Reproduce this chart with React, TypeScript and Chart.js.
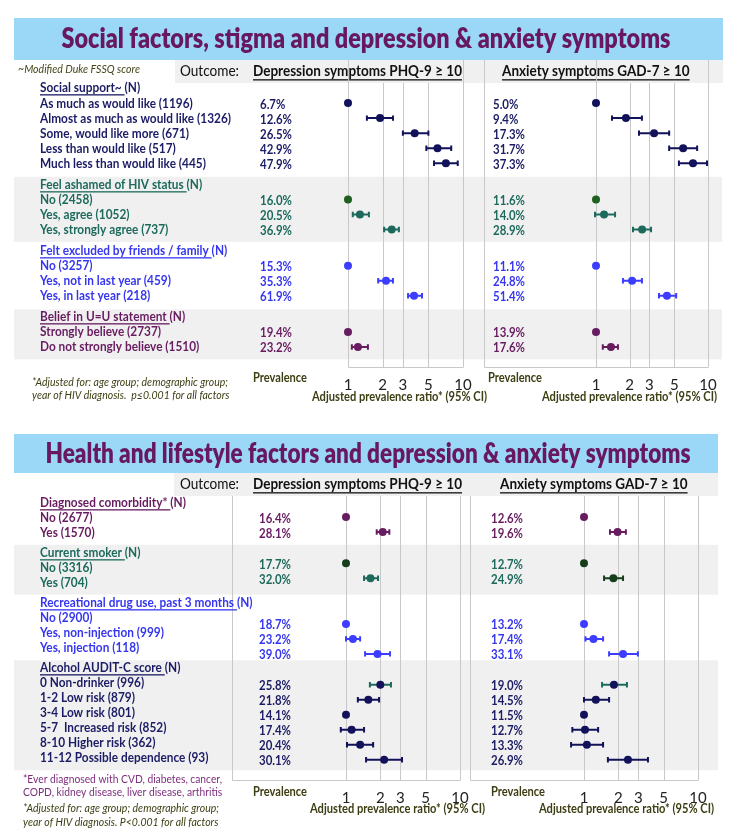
import React, { useEffect, useRef } from "react";
import { Chart, registerables } from "chart.js";

Chart.register(...registerables);

const FONT = "Lato, 'Open Sans', 'Noto Sans', sans-serif";

// ---------------- shared axis / headings ----------------
const ratioTicks = [1, 2, 3, 5, 10];
const ratioMin = 0.1;
const ratioMax = 10;
const axisTitle = "Adjusted prevalence ratio* (95% CI)";
const depHeader = "Depression symptoms PHQ-9 \u2265 10";
const anxHeader = "Anxiety symptoms GAD-7 \u2265 10";
const outcomeText = "Outcome:";
const prevalenceText = "Prevalence";

// ---------------- top panel data ----------------
const topTitle = "Social factors, stigma and depression & anxiety symptoms";
const topGroups = ["Social support~", "Feel ashamed of HIV status", "Felt excluded by friends / family", "Belief in U=U statement"];
const topGroupOf = [0, 0, 0, 0, 0, 1, 1, 1, 2, 2, 2, 3, 3];
const topLabels = [
  "As much as would like (1196)",
  "Almost as much as would like (1326)",
  "Some, would like more (671)",
  "Less than would like (517)",
  "Much less than would like (445)",
  "No (2458)",
  "Yes, agree (1052)",
  "Yes, strongly agree (737)",
  "No (3257)",
  "Yes, not in last year (459)",
  "Yes, in last year (218)",
  "Strongly believe (2737)",
  "Do not strongly believe (1510)",
];
const topDepPrev = [6.7, 12.6, 26.5, 42.9, 47.9, 16.0, 20.5, 36.9, 15.3, 35.3, 61.9, 19.4, 23.2];
const topDepPR = [1, 1.9, 3.8, 6.0, 7.1, 1, 1.27, 2.4, 1, 2.14, 3.75, 1, 1.22];
const topDepLo = [null, 1.46, 3.0, 4.8, 5.6, null, 1.1, 2.06, null, 1.83, 3.33, null, 1.08];
const topDepHi = [null, 2.46, 5.0, 7.9, 9.0, null, 1.52, 2.77, null, 2.46, 4.4, null, 1.49];
const topAnxPrev = [5.0, 9.4, 17.3, 31.7, 37.3, 11.6, 14.0, 28.9, 11.1, 24.8, 51.4, 13.9, 17.6];
const topAnxPR = [1, 1.85, 3.3, 6.0, 7.35, 1, 1.18, 2.58, 1, 2.1, 4.3, 1, 1.36];
const topAnxLo = [null, 1.39, 2.42, 4.5, 5.5, null, 0.98, 2.14, null, 1.74, 3.65, null, 1.15];
const topAnxHi = [null, 2.57, 4.5, 8.0, 9.8, null, 1.48, 3.1, null, 2.57, 5.2, null, 1.57];
const topNotes = [
  { text: "~Modified Duke FSSQ score", x: 18, y: 70, cls: "noteSmall", color: "#45451a" },
  { text: "*Adjusted for: age group; demographic group;", x: 32, y: 382, cls: "note", color: "#3e3e14" },
  { text: "year of HIV diagnosis.  p\u22640.001 for all factors", x: 32, y: 395, cls: "note", color: "#3e3e14" },
];

// ---------------- bottom panel data ----------------
const bottomTitle = "Health and lifestyle factors and depression & anxiety symptoms";
const bottomGroups = ["Diagnosed comorbidity*", "Current smoker", "Recreational drug use, past 3 months", "Alcohol AUDIT-C score"];
const bottomGroupOf = [0, 0, 1, 1, 2, 2, 2, 3, 3, 3, 3, 3, 3];
const bottomLabels = [
  "No (2677)",
  "Yes (1570)",
  "No (3316)",
  "Yes (704)",
  "No (2900)",
  "Yes, non-injection (999)",
  "Yes, injection (118)",
  "0 Non-drinker (996)",
  "1-2 Low risk (879)",
  "3-4 Low risk (801)",
  "5-7  Increased risk (852)",
  "8-10 Higher risk (362)",
  "11-12 Possible dependence (93)",
];
const bottomDepPrev = [16.4, 28.1, 17.7, 32.0, 18.7, 23.2, 39.0, 25.8, 21.8, 14.1, 17.4, 20.4, 30.1];
const bottomDepPR = [1, 2.1, 1, 1.64, 1, 1.15, 1.89, 2.0, 1.57, 1, 1.12, 1.33, 2.16];
const bottomDepLo = [null, 1.86, null, 1.44, null, 1.0, 1.47, 1.62, 1.27, null, 0.9, 1.02, 1.5];
const bottomDepHi = [null, 2.4, null, 1.91, null, 1.33, 2.43, 2.48, 1.95, null, 1.44, 1.73, 3.1];
const bottomAnxPrev = [12.6, 19.6, 12.7, 24.9, 13.2, 17.4, 33.1, 19.0, 14.5, 11.5, 12.7, 13.3, 26.9];
const bottomAnxPR = [1, 1.97, 1, 1.81, 1, 1.21, 2.2, 1.83, 1.27, 1, 1.02, 1.06, 2.43];
const bottomAnxLo = [null, 1.69, null, 1.5, null, 1.03, 1.66, 1.44, 1.0, null, 0.79, 0.77, 1.62];
const bottomAnxHi = [null, 2.33, null, 2.2, null, 1.47, 2.97, 2.38, 1.66, null, 1.33, 1.47, 3.64];
const bottomNotes = [
  { text: "*Ever diagnosed with CVD, diabetes, cancer,", x: 23, y: 779, cls: "notePurple", color: "#7d2d7d" },
  { text: "COPD, kidney disease, liver disease, arthritis", x: 23, y: 792, cls: "notePurple", color: "#7d2d7d" },
  { text: "*Adjusted for: age group; demographic group;", x: 23, y: 808, cls: "note", color: "#3e3e14" },
  { text: "year of HIV diagnosis. P<0.001 for all factors", x: 23, y: 822, cls: "note", color: "#3e3e14" },
];

// ---------------- styles ----------------
const NAVY_TXT = "#1c1c66";
const NAVY_PT = "#12125a";
const TEAL = "#1d6a5d";
const DKGREEN = "#1f5f1f";
const SMOKE_DK = "#163d1c";
const BLUE_TXT = "#3636f0";
const BLUE_PT = "#3d3dff";
const PURPLE = "#681c60";
const TITLE_C = "#68185f";
const BANNER = "#9bd8f8";
const BAND = "#f0f0f0";
const OLIVE = "#3e3e14";
const GRID = "#c8c8c8";

const textClasses: Record<string, { font: string; ref?: string; width?: number }> = {
  label: { font: `bold 14px ${FONT}`, ref: "Almost as much as would like (1326)", width: 191 },
  prev: { font: `bold 14px ${FONT}`, ref: "47.9%", width: 32 },
  header: { font: `bold 15px ${FONT}`, ref: depHeader, width: 209 },
  outcome: { font: `15px ${FONT}`, ref: "Outcome:", width: 59 },
  note: { font: `italic 11px ${FONT}`, ref: "*Adjusted for: age group; demographic group;", width: 196 },
  noteSmall: { font: `italic 10.5px ${FONT}`, ref: "~Modified Duke FSSQ score", width: 122 },
  notePurple: { font: `11.5px ${FONT}`, ref: "*Ever diagnosed with CVD, diabetes, cancer,", width: 199 },
  prevLabel: { font: `bold 13px ${FONT}`, ref: "Prevalence", width: 54 },
  axisTitle: { font: `bold 12.5px ${FONT}`, ref: axisTitle, width: 175 },
};

const topPanel = {
  title: topTitle,
  groups: topGroups,
  groupOf: topGroupOf,
  labels: topLabels,
  notes: topNotes,
  dep: { prev: topDepPrev, pr: topDepPR, lo: topDepLo, hi: topDepHi, header: depHeader },
  anx: { prev: topAnxPrev, pr: topAnxPR, lo: topAnxLo, hi: topAnxHi, header: anxHeader },
  textColors: [NAVY_TXT, TEAL, BLUE_TXT, PURPLE],
  pointColors: [NAVY_PT, TEAL, BLUE_PT, PURPLE],
  pointOverride: { dep: { 5: DKGREEN }, anx: { 5: DKGREEN } } as any,
  ciOverride: { dep: {}, anx: {} } as any,
};

const bottomPanel = {
  title: bottomTitle,
  groups: bottomGroups,
  groupOf: bottomGroupOf,
  labels: bottomLabels,
  notes: bottomNotes,
  dep: { prev: bottomDepPrev, pr: bottomDepPR, lo: bottomDepLo, hi: bottomDepHi, header: depHeader },
  anx: { prev: bottomAnxPrev, pr: bottomAnxPR, lo: bottomAnxLo, hi: bottomAnxHi, header: anxHeader },
  textColors: [PURPLE, TEAL, BLUE_TXT, NAVY_TXT],
  pointColors: [PURPLE, TEAL, BLUE_PT, NAVY_PT],
  pointOverride: { dep: { 2: SMOKE_DK }, anx: { 2: SMOKE_DK, 3: SMOKE_DK } } as any,
  ciOverride: { dep: { 7: TEAL }, anx: { 7: TEAL, 3: SMOKE_DK } } as any,
};

const AXIS_H = 38;
const RIGHT_OFF = 465;

const topLayout = {
  offY: 0, height: 420, padTop: 83, padBottom: 15, yMin: -0.33, yMax: 18.53, gap: 0.4,
  bannerTop: 18, bannerBottom: 60, bannerRight: 723, titleWidth: 609, titleX: 366, titleY: 39,
  headerLeft: 175, headerRight: 723, extendTop: true, bandRight: 722, prevLabelY: 378, axisTitleY: 397,
  shift: [0, 0, 0, 0],
  dep: { padLeft: 233, padRight: 741 - 463, boxFrom: 1, prevX: 260, headerX: 253, prevLabelX: 253, axisTitleRight: 487 },
  anx: { padLeft: 484 - RIGHT_OFF, padRight: 741 - 708, boxFrom: 0.1, prevX: 493, headerX: 502, prevLabelX: 488, axisTitleRight: 717 },
};

const bottomLayout = {
  offY: 420, height: 414, padTop: 76, padBottom: 16, yMin: -0.4, yMax: 18.52, gap: 0.35,
  bannerTop: 434, bannerBottom: 473, bannerRight: 718, titleWidth: 645, titleX: 368, titleY: 454,
  headerLeft: 174, headerRight: 718, extendTop: false, bandRight: 718, prevLabelY: 792, axisTitleY: 809,
  shift: [0, -0.27, 0.42, 0.12],
  dep: { padLeft: 232, padRight: 741 - 460, boxFrom: 0.1, prevX: 259, headerX: 253, prevLabelX: 253, axisTitleRight: 485 },
  anx: { padLeft: 470 - RIGHT_OFF, padRight: 741 - 698, boxFrom: 0.1, prevX: 491, headerX: 500, prevLabelX: 491, axisTitleRight: 714 },
};

function rowLayout(groupOf: number[], gap: number) {
  const headerU: number[] = [];
  const lastU: number[] = [];
  const itemU: number[] = [];
  let u = 0;
  let prev = -1;
  groupOf.forEach((g) => {
    if (g !== prev) {
      if (prev !== -1) u += gap;
      headerU[g] = u;
      u += 1;
      prev = g;
    }
    itemU.push(u);
    lastU[g] = u;
    u += 1;
  });
  return { headerU, lastU, itemU };
}

function drawText(ctx: CanvasRenderingContext2D, cls: string, text: string, x: number, y: number, color: string, align: CanvasTextAlign = "left", targetWidth?: number, fontOverride?: string) {
  const c = textClasses[cls] || { font: fontOverride || `13px ${FONT}` };
  ctx.save();
  ctx.font = fontOverride || c.font;
  let sx = 1;
  if (targetWidth) sx = targetWidth / ctx.measureText(text).width;
  else if (c.ref && c.width) sx = c.width / ctx.measureText(c.ref).width;
  sx = Math.max(0.65, Math.min(1.3, sx));
  ctx.fillStyle = color;
  ctx.textBaseline = "middle";
  ctx.textAlign = align;
  ctx.translate(x, y);
  ctx.scale(sx, 1);
  ctx.fillText(text, 0, 0);
  const w = ctx.measureText(text).width * sx;
  ctx.restore();
  return w;
}

function underline(ctx: CanvasRenderingContext2D, x: number, y: number, w: number, color: string) {
  ctx.save();
  ctx.fillStyle = color;
  ctx.fillRect(x, Math.round(y) + 0.2, w, 1.3);
  ctx.restore();
}

function makeChart(canvas: HTMLCanvasElement, panel: any, L: any, side: "dep" | "anx") {
  const isDep = side === "dep";
  const s = isDep ? L.dep : L.anx;
  const offX = isDep ? 0 : RIGHT_OFF;
  const rows = rowLayout(panel.groupOf, L.gap);
  const d = panel[side];
  const yOf = (i: number) => rows.itemU[i] + L.shift[panel.groupOf[i]];
  const ptColors = d.pr.map((_: number, i: number) => panel.pointOverride[side][i] || panel.pointColors[panel.groupOf[i]]);
  const ciColors = d.pr.map((_: number, i: number) => panel.ciOverride[side][i] || ptColors[i]);
  const pxx = (v: number) => v - offX;
  const pyy = (v: number) => v - L.offY;

  const bgPlugin = {
    id: "forestBackground",
    beforeDraw(chart: any) {
      const ctx: CanvasRenderingContext2D = chart.ctx;
      const ca = chart.chartArea;
      const xs = chart.scales.x;
      const ys = chart.scales.y;
      const headTop = ca.top - 23;
      ctx.save();
      if (isDep) {
        // banner + title
        ctx.fillStyle = BANNER;
        ctx.fillRect(14, pyy(L.bannerTop), L.bannerRight - 14, L.bannerBottom - L.bannerTop);
        drawText(ctx, "title", panel.title, L.titleX, pyy(L.titleY), TITLE_C, "center", L.titleWidth, `800 28px ${FONT}`);
        // outcome header band
        ctx.fillStyle = BAND;
        ctx.fillRect(L.headerLeft, headTop, L.headerRight - L.headerLeft, 23);
        // section bands
        panel.groups.forEach((_: string, gi: number) => {
          if (gi % 2 === 1) {
            const t = ys.getPixelForValue(rows.headerU[gi] - 0.5);
            const b = ys.getPixelForValue(rows.lastU[gi] + 0.82);
            ctx.fillStyle = BAND;
            ctx.fillRect(14, t, L.bandRight - 14, b - t);
          }
        });
        drawText(ctx, "outcome", outcomeText, 180, ca.top - 11.5, "#111");
      }
      // outcome heading
      const hw = drawText(ctx, "header", d.header, pxx(s.headerX), ca.top - 11.5, "#111");
      underline(ctx, pxx(s.headerX), ca.top - 11.5 + 7, hw, "#111");

      // grid lines at the ratio ticks
      ctx.strokeStyle = GRID;
      ctx.lineWidth = 1;
      ratioTicks.forEach((v) => {
        const x = Math.round(xs.getPixelForValue(v)) + 0.5;
        const top = L.extendTop && (v === 1 || v === 10) ? headTop : ca.top;
        ctx.beginPath();
        ctx.moveTo(x, top);
        ctx.lineTo(x, ca.bottom);
        ctx.stroke();
      });
      // plot box (left + bottom)
      const bx = Math.round(xs.getPixelForValue(s.boxFrom)) + 0.5;
      const bxr = Math.round(xs.getPixelForValue(ratioMax)) + 0.5;
      const by = Math.round(ca.bottom) + 0.5;
      ctx.beginPath();
      ctx.moveTo(bx, L.extendTop ? headTop : ca.top);
      ctx.lineTo(bx, by);
      ctx.lineTo(bxr, by);
      ctx.stroke();

      // prevalence column
      d.prev.forEach((p: number, i: number) => {
        drawText(ctx, "prev", p.toFixed(1) + "%", pxx(s.prevX), ys.getPixelForValue(yOf(i)) + 1, panel.textColors[panel.groupOf[i]]);
      });
      drawText(ctx, "prevLabel", prevalenceText, pxx(s.prevLabelX), pyy(L.prevLabelY), OLIVE);
      drawText(ctx, "axisTitle", axisTitle, pxx(s.axisTitleRight), pyy(L.axisTitleY), OLIVE, "right");

      if (isDep) {
        panel.groups.forEach((g: string, gi: number) => {
          const y = ys.getPixelForValue(rows.headerU[gi]);
          const col = panel.textColors[gi];
          const w = drawText(ctx, "label", g + " ", 40, y, col);
          underline(ctx, 40, y + 6.5, w, col);
          drawText(ctx, "label", "(N)", 40 + w, y, col);
        });
        panel.labels.forEach((t: string, i: number) => {
          drawText(ctx, "label", t, 40, ys.getPixelForValue(rows.itemU[i]), panel.textColors[panel.groupOf[i]]);
        });
        panel.notes.forEach((n: any) => {
          drawText(ctx, n.cls, n.text, n.x, pyy(n.y), n.color);
        });
      }
      ctx.restore();
    },
  };

  const ciPlugin = {
    id: "confidenceIntervals",
    beforeDatasetsDraw(chart: any) {
      const ctx: CanvasRenderingContext2D = chart.ctx;
      const xs = chart.scales.x;
      const ys = chart.scales.y;
      ctx.save();
      ctx.lineWidth = 2;
      d.lo.forEach((lo: number | null, i: number) => {
        const hi = d.hi[i];
        if (lo == null || hi == null) return;
        const x1 = xs.getPixelForValue(lo);
        const x2 = xs.getPixelForValue(hi);
        const y = ys.getPixelForValue(yOf(i));
        ctx.strokeStyle = ciColors[i];
        ctx.beginPath();
        ctx.moveTo(x1, y);
        ctx.lineTo(x2, y);
        ctx.moveTo(x1, y - 2.7);
        ctx.lineTo(x1, y + 2.7);
        ctx.moveTo(x2, y - 2.7);
        ctx.lineTo(x2, y + 2.7);
        ctx.stroke();
      });
      ctx.restore();
    },
  };

  return new Chart(canvas, {
    type: "scatter",
    data: {
      datasets: [
        {
          data: d.pr.map((v: number, i: number) => ({ x: v, y: yOf(i) })),
          pointRadius: 4,
          pointHoverRadius: 4,
          pointBackgroundColor: ptColors,
          pointBorderColor: ptColors,
          pointBorderWidth: 0,
          showLine: false,
        },
      ],
    },
    options: {
      responsive: false,
      maintainAspectRatio: false,
      animation: false,
      events: [],
      layout: { padding: { left: s.padLeft, right: s.padRight, top: L.padTop, bottom: L.padBottom } },
      plugins: { legend: { display: false }, tooltip: { enabled: false }, title: { display: false } },
      scales: {
        x: {
          type: "logarithmic",
          min: ratioMin,
          max: ratioMax,
          afterBuildTicks: (sc: any) => {
            sc.ticks = ratioTicks.map((v) => ({ value: v }));
          },
          afterFit: (sc: any) => {
            sc.height = AXIS_H;
          },
          grid: { display: false, drawTicks: false },
          border: { display: false },
          ticks: {
            autoSkip: false,
            maxRotation: 0,
            padding: 9,
            color: "#222",
            font: { family: FONT, size: 15 },
            callback: (v: any) => String(v),
          },
          title: { display: false },
        },
        y: { type: "linear", min: L.yMin, max: L.yMax, reverse: true, display: false },
      },
    } as any,
    plugins: [bgPlugin, ciPlugin],
  });
}

export default function App() {
  const r0 = useRef<HTMLCanvasElement>(null);
  const r1 = useRef<HTMLCanvasElement>(null);
  const r2 = useRef<HTMLCanvasElement>(null);
  const r3 = useRef<HTMLCanvasElement>(null);

  useEffect(() => {
    const charts = [
      makeChart(r0.current!, topPanel, topLayout, "dep"),
      makeChart(r1.current!, topPanel, topLayout, "anx"),
      makeChart(r2.current!, bottomPanel, bottomLayout, "dep"),
      makeChart(r3.current!, bottomPanel, bottomLayout, "anx"),
    ];
    return () => charts.forEach((c) => c.destroy());
  }, []);

  const rw = 741 - RIGHT_OFF;
  return (
    <div style={{ position: "absolute", left: 0, top: 0, width: 741, height: 834, background: "#fff", overflow: "hidden" }}>
      <canvas ref={r0} width={741} height={420} style={{ position: "absolute", left: 0, top: 0, width: 741, height: 420 }} />
      <canvas ref={r1} width={rw} height={420} style={{ position: "absolute", left: RIGHT_OFF, top: 0, width: rw, height: 420 }} />
      <canvas ref={r2} width={741} height={414} style={{ position: "absolute", left: 0, top: 420, width: 741, height: 414 }} />
      <canvas ref={r3} width={rw} height={414} style={{ position: "absolute", left: RIGHT_OFF, top: 420, width: rw, height: 414 }} />
    </div>
  );
}
